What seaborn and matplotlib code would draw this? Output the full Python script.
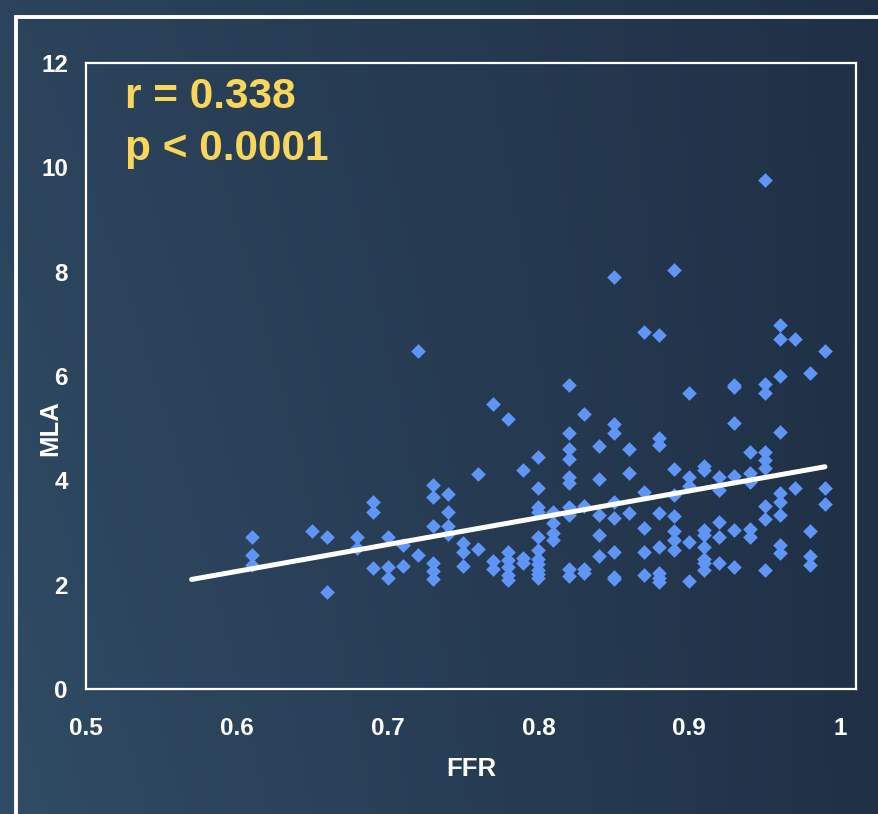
import numpy as np
import pandas as pd
import matplotlib
matplotlib.use("Agg")
import matplotlib.pyplot as plt
from matplotlib.lines import Line2D
import seaborn as sns

# ---- data ----
ffr_cols = [0.61, 0.65, 0.66, 0.68, 0.69, 0.70, 0.71, 0.72, 0.73, 0.74,
            0.75, 0.76, 0.77, 0.78, 0.79, 0.80, 0.81, 0.82, 0.83, 0.84,
            0.85, 0.86, 0.87, 0.88, 0.89, 0.90, 0.91, 0.92, 0.93, 0.94,
            0.95, 0.96, 0.97, 0.98, 0.99]
mla_cols = [
    [2.92, 2.57, 2.38],
    [3.03],
    [2.91, 1.85],
    [2.92, 2.70],
    [3.59, 3.39, 2.31],
    [2.92, 2.33, 2.12],
    [2.76, 2.35],
    [6.47, 2.56],
    [3.92, 3.69, 3.12, 2.42, 2.26, 2.11],
    [3.73, 3.40, 3.12, 2.98],
    [2.79, 2.62, 2.35],
    [4.12, 2.68],
    [5.46, 2.45, 2.30],
    [5.18, 2.62, 2.47, 2.34, 2.18, 2.08],
    [4.20, 2.52, 2.41],
    [4.45, 3.85, 3.49, 3.40, 2.92, 2.66, 2.50, 2.40, 2.29, 2.20, 2.12],
    [3.40, 3.18, 3.00, 2.86],
    [5.83, 4.90, 4.61, 4.40, 4.07, 3.95, 3.49, 3.34, 2.30, 2.17],
    [5.27, 3.50, 2.30, 2.22],
    [4.66, 4.02, 3.34, 2.95, 2.55],
    [7.90, 5.08, 4.90, 3.58, 3.27, 2.62, 2.15, 2.10],
    [4.61, 4.15, 3.37],
    [6.85, 3.78, 3.08, 2.63, 2.19],
    [6.79, 4.82, 4.68, 3.37, 2.73, 2.22, 2.12, 2.05],
    [8.03, 4.21, 3.72, 3.32, 3.02, 2.86, 2.66],
    [5.68, 4.07, 3.89, 2.82, 2.07],
    [4.27, 4.20, 3.05, 2.95, 2.73, 2.50, 2.41, 2.29],
    [4.07, 3.81, 3.21, 2.92, 2.42],
    [5.83, 5.78, 5.10, 4.08, 3.05, 2.34],
    [4.55, 4.15, 3.97, 3.06, 2.92],
    [9.75, 5.84, 5.67, 4.55, 4.39, 4.23, 3.51, 3.25, 2.28],
    [6.98, 6.70, 6.00, 4.93, 3.75, 3.59, 3.34, 2.76, 2.60],
    [6.70, 3.85],
    [6.06, 3.02, 2.54, 2.38],
    [6.47, 3.85, 3.55],
]
fit_x = [0.57, 0.99]
fit_y = [2.10, 4.26]
x_ticks = [0.5, 0.6, 0.7, 0.8, 0.9, 1.0]
x_tick_labels = ["0.5", "0.6", "0.7", "0.8", "0.9", "1"]
y_ticks = [0, 2, 4, 6, 8, 10, 12]
stat_lines = ["r = 0.338", "p < 0.0001"]

ffr = [x for x, ys in zip(ffr_cols, mla_cols) for _ in ys]
mla = [y for ys in mla_cols for y in ys]
df = pd.DataFrame({"FFR": ffr, "MLA": mla})

sns.set_theme(style="white")
plt.rcParams["font.family"] = ["Liberation Sans", "DejaVu Sans"]

W, H = 879, 814
fig = plt.figure(figsize=(W / 100, H / 100), dpi=100)

# background gradient
bg = fig.add_axes([0, 0, 1, 1], zorder=-10)
gx = np.linspace(0, 1, 300)[None, :]
gy = np.linspace(0, 1, 300)[:, None]
t = np.clip(0.85 * gx + 0.25 * (1 - gy) * (1 - gx) - 0.05, 0, 1)  # gy=0 top
left = np.array([47, 74, 99]) / 255.0
right = np.array([28, 42, 63]) / 255.0
img = left[None, None, :] * (1 - t[..., None]) + right[None, None, :] * t[..., None]
bg.imshow(img, aspect="auto", extent=[0, 1, 0, 1], origin="upper")
bg.set_axis_off()

# outer white frame (left and top edges)
fx = 16 / W
fy = 1 - 17 / H
fig.add_artist(Line2D([fx, fx, 1.01], [-0.01, fy, fy], color="white", lw=2.8,
                      transform=fig.transFigure, solid_joinstyle="miter"))

ax = fig.add_axes([86 / W, 1 - 689 / H, (856 - 86) / W, (689 - 63) / H])
ax.set_facecolor("none")

sns.scatterplot(data=df, x="FFR", y="MLA", marker="D", s=56, color="#5e95f6",
                linewidth=0, ax=ax, zorder=3)
sns.lineplot(x=fit_x, y=fit_y, color="white", linewidth=3.6, ax=ax, zorder=4,
             solid_capstyle="round")

ax.set_xlim(0.5, 1.0106)
ax.set_ylim(0, 12)
ax.set_xticks(x_ticks)
ax.set_xticklabels(x_tick_labels)
ax.set_yticks(y_ticks)

for sp in ax.spines.values():
    sp.set_visible(True)
    sp.set_color("white")
    sp.set_linewidth(1.6)

ax.tick_params(axis="both", colors="white", direction="out", length=5, width=1.2,
               labelsize=17.5)
ax.tick_params(axis="x", pad=15)
ax.tick_params(axis="y", pad=8)
for lab in ax.get_xticklabels() + ax.get_yticklabels():
    lab.set_fontweight("bold")
    lab.set_color("white")

ax.set_xlabel("FFR", color="white", fontsize=18.5, fontweight="bold")
ax.set_ylabel("MLA", color="white", fontsize=18.5, fontweight="bold")
ax.xaxis.set_label_coords(0.5, (689 - 757) / 626)
ax.yaxis.set_label_coords((62 - 86) / 770, (689 - 428) / 626)

ax.text(0.051, 0.946, stat_lines[0], transform=ax.transAxes, color="#f8d65a",
        fontsize=30.5, fontweight="bold", va="center", ha="left")
ax.text(0.051, 0.863, stat_lines[1], transform=ax.transAxes, color="#f8d65a",
        fontsize=30.5, fontweight="bold", va="center", ha="left")

fig.savefig("out.png", dpi=100)
